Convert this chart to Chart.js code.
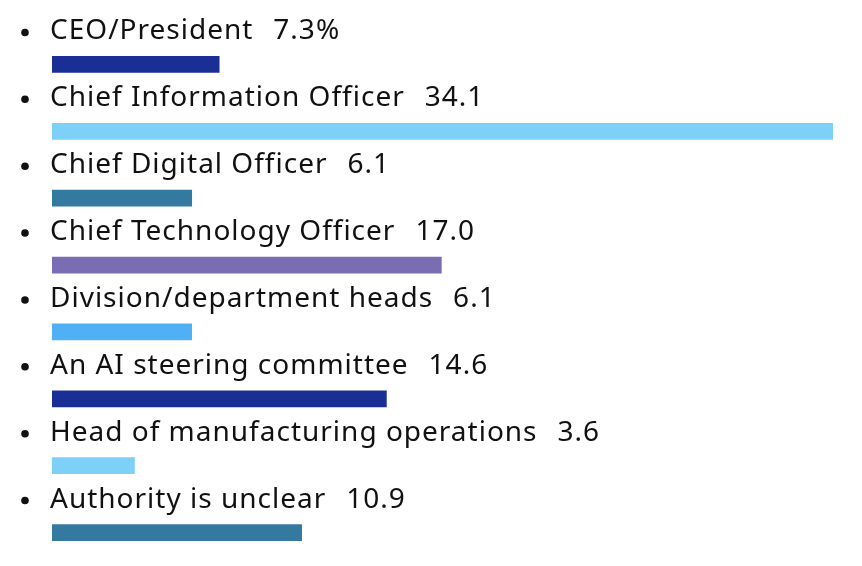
<!DOCTYPE html>
<html>
<head>
<meta charset="utf-8">
<script src="https://cdn.jsdelivr.net/npm/chart.js@4.4.0/dist/chart.umd.min.js"></script>
<style>
  html, body { margin: 0; padding: 0; background: #fff; }
  #wrap { width: 862px; height: 566px; position: relative; }
</style>
</head>
<body>
<div id="wrap"><canvas id="roleChart"></canvas></div>
<script>
// ── data ──
const categories = [
    'CEO/President',
    'Chief Information Officer',
    'Chief Digital Officer',
    'Chief Technology Officer',
    'Division/department heads',
    'An AI steering committee',
    'Head of manufacturing operations',
    'Authority is unclear'
];
const values = [7.3, 34.1, 6.1, 17.0, 6.1, 14.6, 3.6, 10.9];
const valueLabels = ['7.3%', '34.1', '6.1', '17.0', '6.1', '14.6', '3.6', '10.9'];
const barColors = ['#1a2f96', '#7dd0f7', '#34799f', '#7a6db3', '#4fb0f5', '#1a2f96', '#7dd0f7', '#34799f'];

// ── label above each bar: bullet + name + value ──
const bulletLabels = {
    id: 'bulletLabels',
    afterDatasetsDraw(chart) {
        const { ctx } = chart;
        const meta = chart.getDatasetMeta(0);
        const left = chart.chartArea.left;
        ctx.save();
        ctx.fillStyle = '#111';
        ctx.textBaseline = 'middle';
        meta.data.forEach((bar, i) => {
            const y = bar.y - 33;
            // bullet
            ctx.beginPath();
            ctx.arc(25, y + 1, 3.8, 0, Math.PI * 2);
            ctx.fill();
            ctx.font = '28px "Noto Sans"';
            ctx.letterSpacing = '1px';
            ctx.fillText(categories[i], left - 2, y);
            const w = ctx.measureText(categories[i]).width;
            ctx.fillText(valueLabels[i], left - 2 + w + 20, y);
        });
        ctx.restore();
    }
};

new Chart(document.getElementById('roleChart'), {
    type: 'bar',
    data: {
        labels: categories,
        datasets: [{
            data: values,
            backgroundColor: barColors,
            borderWidth: 0,
            barThickness: 16
        }]
    },
    options: {
        indexAxis: 'y',
        responsive: true,
        maintainAspectRatio: false,
        animation: false,
        layout: { padding: { left: 52, right: 29, top: 31, bottom: 0 } },
        plugins: {
            legend: { display: false },
            tooltip: { enabled: false }
        },
        scales: {
            x: { display: false, min: 0, max: 34.1 },
            y: { display: false }
        }
    },
    plugins: [bulletLabels]
});
</script>
</body>
</html>
